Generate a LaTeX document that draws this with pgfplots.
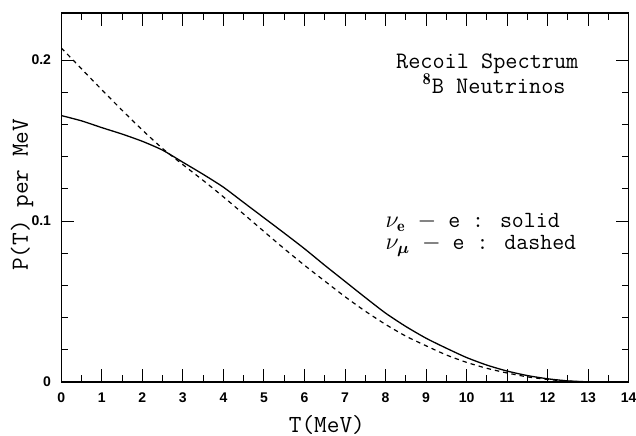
\documentclass[border=0pt]{standalone}
\usepackage{fontspec}
\usepackage{bm}
\usepackage{pgfplots}
\pgfplotsset{compat=1.18}
\newfontfamily\tickfont{Liberation Sans}
\pgfplotstableread{
T P
0    0.1655
0.5  0.1622
1    0.1580
1.5  0.1540
2    0.1495
2.5  0.1440
3    0.1365
3.5  0.1290
4    0.1210
4.5  0.1115
5    0.1020
5.5  0.0925
6    0.0828
6.5  0.0725
7    0.0625
7.5  0.0525
8    0.0428
8.5  0.0345
9    0.0272
9.5  0.0210
10   0.0152
10.5 0.0105
11   0.0068
11.5 0.0040
12   0.0020
12.5 0.0007
13   0.0001
13.3 0
}\solid
\pgfplotstableread{
T P
0    0.2075
0.5  0.1945
1    0.1815
1.5  0.1688
2    0.1565
2.5  0.1450
3    0.1350
3.5  0.1252
4    0.1150
4.5  0.1043
5    0.0935
5.5  0.0828
6    0.0725
6.5  0.0627
7    0.0530
7.5  0.0440
8    0.0358
8.5  0.0285
9    0.0225
9.5  0.0168
10   0.0122
10.5 0.0085
11   0.0056
11.5 0.0032
12   0.0016
12.5 0.0005
13   0.0001
13.3 0
}\dashed
\begin{document}
\begin{tikzpicture}
\begin{axis}[
  scale only axis, width=283.7pt, height=184.5pt,
  xmin=0, xmax=14, ymin=0, ymax=0.2292,
  xtick={0,1,...,14}, minor x tick num=1,
  ytick={0,0.1,0.2}, minor y tick num=4,
  scaled y ticks=false,
  tick align=inside,
  major tick length=6.5pt, minor tick length=3.3pt,
  axis line style={line width=0.6pt},
  every tick/.style={black, line width=0.5pt},
  tick label style={font=\tickfont\bfseries\fontsize{7}{8}\selectfont},
  /pgf/number format/assume math mode=true,
  xticklabel style={yshift=-2pt},
  yticklabel style={xshift=-1.6pt},
  xlabel={T(MeV)}, ylabel={P(T) per MeV},
  label style={font=\ttfamily\fontsize{12.3}{14}\selectfont},
  xlabel style={at={(axis description cs:0.468,-0.1355)}, anchor=base},
  ylabel style={at={(axis description cs:-0.0693,0.507)}, anchor=center},
]
\addplot[black, line width=0.65pt, smooth, tension=0.4] table[x=T,y=P] {\solid};
\addplot[black, line width=0.6pt, dash pattern=on 2.2pt off 2pt, smooth, tension=0.4] table[x=T,y=P] {\dashed};
\node[anchor=base, font=\ttfamily\fontsize{11.8}{14}\selectfont] at (axis cs:10.51,0.195) {Recoil Spectrum};
\node[anchor=base, font=\ttfamily\fontsize{11.8}{14}\selectfont] at (axis cs:10.68,0.1795) {$^{\mathbf{8}}$B Neutrinos};
\node[anchor=base west, inner sep=0pt, font=\ttfamily\fontsize{11.6}{14}\selectfont] at (axis cs:7.99,0.0958) {$\nu_{\mathbf{e}}$\ $-$\ e : solid};
\node[anchor=base west, inner sep=0pt, font=\ttfamily\fontsize{11.6}{14}\selectfont] at (axis cs:7.99,0.0820) {$\nu_{\bm{\mu}}$\ $-$\ e : dashed};
\end{axis}
\pgfresetboundingbox
\path[use as bounding box] ([xshift=-30.65pt,yshift=-26.5pt]current axis.south west) rectangle ([xshift=3.65pt,yshift=6.5pt]current axis.north east);
\end{tikzpicture}
\end{document}
